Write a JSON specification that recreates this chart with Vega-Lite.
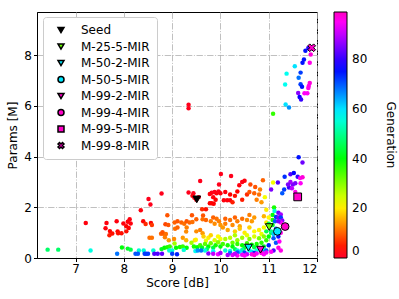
{
"$schema":"https://vega.github.io/schema/vega-lite/v6.json",
"width":280,"height":246,
"autosize":{"type":"none"},
"padding":{"left":37,"top":12,"right":82,"bottom":41},
"config":{"font":"DejaVu Sans","view":{"stroke":"black","strokeWidth":1},
"axis":{"labelFontSize":12,"titleFontSize":12,"titleFontWeight":"normal","labelColor":"black","titleColor":"black","tickColor":"black","domainColor":"black","tickSize":3.5,"labelPadding":2,"gridColor":"#b0b0b0","gridDash":[6.4,1.6,1,1.6],"gridWidth":0.8}},
"datasets":{
"pts":[
{"s":7.21,"p":1.38,"g":2},{"s":7.62,"p":1.17,"g":2},{"s":7.64,"p":1.38,"g":2},{"s":7.70,"p":0.90,"g":5},{"s":7.71,"p":1.06,"g":3},{"s":7.76,"p":0.97,"g":4},{"s":7.85,"p":1.45,"g":2},{"s":7.87,"p":1.05,"g":3},{"s":7.88,"p":0.98,"g":4},{"s":7.95,"p":0.98,"g":4},{"s":7.99,"p":1.36,"g":2},{"s":8.05,"p":1.25,"g":3},{"s":8.08,"p":1.43,"g":2},{"s":8.12,"p":1.53,"g":2},{"s":8.14,"p":1.36,"g":2},{"s":8.10,"p":1.18,"g":3},{"s":8.05,"p":1.05,"g":4},{"s":8.35,"p":1.88,"g":2},{"s":8.40,"p":1.45,"g":3},{"s":8.45,"p":1.34,"g":6},{"s":8.51,"p":2.33,"g":1},{"s":8.55,"p":2.11,"g":1},{"s":8.56,"p":1.38,"g":3},{"s":8.58,"p":1.30,"g":7},{"s":8.78,"p":2.54,"g":1},
{"s":8.53,"p":0.80,"g":11},{"s":8.58,"p":0.80,"g":11},{"s":8.77,"p":0.96,"g":10},{"s":8.82,"p":0.96,"g":10},{"s":8.80,"p":1.02,"g":9},{"s":8.85,"p":0.82,"g":12},{"s":8.87,"p":0.95,"g":11},{"s":8.90,"p":1.69,"g":9},{"s":8.86,"p":1.33,"g":8},{"s":8.92,"p":1.30,"g":9},{"s":8.93,"p":0.70,"g":14},
{"s":6.42,"p":0.33,"g":47},{"s":6.64,"p":0.33,"g":47},{"s":7.31,"p":0.30,"g":56},{"s":7.96,"p":0.41,"g":40},{"s":8.08,"p":0.37,"g":42},{"s":8.14,"p":0.33,"g":45},{"s":8.31,"p":0.30,"g":55},{"s":8.41,"p":0.30,"g":55},{"s":8.61,"p":0.30,"g":55},{"s":8.78,"p":0.35,"g":42},{"s":8.84,"p":0.40,"g":40},{"s":8.90,"p":0.42,"g":38},{"s":8.95,"p":0.45,"g":36},{"s":8.94,"p":0.30,"g":55},
{"s":7.86,"p":0.17,"g":68},{"s":8.24,"p":0.17,"g":70},{"s":8.29,"p":0.17,"g":70},{"s":8.43,"p":0.17,"g":72},{"s":8.46,"p":0.17,"g":72},{"s":8.50,"p":0.17,"g":72},{"s":8.63,"p":0.17,"g":82},{"s":8.70,"p":0.17,"g":82},{"s":8.79,"p":0.17,"g":83},
{"s":9.34,"p":2.58,"g":1},{"s":9.44,"p":2.55,"g":1},{"s":9.46,"p":2.38,"g":1},{"s":9.42,"p":2.45,"g":2},{"s":9.50,"p":2.30,"g":2},{"s":9.55,"p":2.40,"g":1},{"s":9.58,"p":3.04,"g":1},{"s":9.34,"p":6.04,"g":1},{"s":9.34,"p":5.90,"g":1},{"s":9.82,"p":2.57,"g":1},{"s":9.78,"p":2.52,"g":2},{"s":9.88,"p":2.60,"g":1},{"s":9.92,"p":2.55,"g":2},{"s":9.96,"p":2.62,"g":1},{"s":10.0,"p":2.55,"g":2},{"s":9.85,"p":2.40,"g":2},{"s":9.90,"p":2.30,"g":3},{"s":9.97,"p":2.90,"g":1},{"s":10.01,"p":3.31,"g":1},{"s":9.78,"p":2.16,"g":3},{"s":9.82,"p":2.16,"g":3},{"s":9.86,"p":2.14,"g":3},{"s":9.62,"p":1.92,"g":6},{"s":9.70,"p":1.92,"g":4},{"s":10.07,"p":2.28,"g":2},{"s":10.14,"p":2.28,"g":2},{"s":10.2,"p":2.28,"g":2},
{"s":9.05,"p":1.40,"g":10},{"s":9.06,"p":1.15,"g":11},{"s":9.04,"p":0.75,"g":13},{"s":9.11,"p":1.45,"g":9},{"s":9.11,"p":1.20,"g":10},{"s":9.19,"p":1.40,"g":10},{"s":9.25,"p":1.35,"g":11},{"s":9.30,"p":1.45,"g":9},{"s":9.36,"p":1.40,"g":10},{"s":9.42,"p":1.42,"g":11},{"s":9.30,"p":1.20,"g":12},{"s":9.29,"p":1.04,"g":13},{"s":9.22,"p":0.80,"g":14},{"s":9.29,"p":0.70,"g":16},{"s":9.41,"p":1.69,"g":9},{"s":9.64,"p":1.68,"g":9},{"s":9.50,"p":1.53,"g":10},{"s":9.63,"p":1.53,"g":11},{"s":9.70,"p":1.50,"g":10},{"s":9.80,"p":1.45,"g":12},{"s":9.50,"p":1.05,"g":13},{"s":9.58,"p":1.10,"g":12},{"s":9.63,"p":0.98,"g":14},{"s":9.85,"p":1.60,"g":10},{"s":9.92,"p":1.55,"g":11},{"s":9.97,"p":1.45,"g":12},{"s":9.88,"p":1.35,"g":13},{"s":10.0,"p":1.30,"g":14},
{"s":9.47,"p":0.70,"g":19},{"s":9.49,"p":0.72,"g":20},{"s":9.65,"p":0.85,"g":18},{"s":9.75,"p":0.80,"g":20},{"s":9.70,"p":0.68,"g":23},{"s":9.80,"p":0.90,"g":18},{"s":9.88,"p":0.70,"g":24},{"s":9.95,"p":0.85,"g":21},{"s":10.0,"p":0.75,"g":22},{"s":9.40,"p":0.60,"g":28},
{"s":9.05,"p":0.57,"g":28},{"s":9.08,"p":0.40,"g":40},{"s":9.16,"p":0.43,"g":38},{"s":9.22,"p":0.45,"g":36},{"s":9.30,"p":0.40,"g":40},{"s":9.45,"p":0.45,"g":38},{"s":9.52,"p":0.42,"g":40},{"s":9.58,"p":0.50,"g":35},{"s":9.62,"p":0.40,"g":42},{"s":9.68,"p":0.55,"g":33},{"s":9.75,"p":0.45,"g":40},{"s":9.80,"p":0.58,"g":32},{"s":9.85,"p":0.40,"g":44},{"s":9.90,"p":0.50,"g":38},{"s":9.95,"p":0.62,"g":30},{"s":10.0,"p":0.45,"g":40},{"s":9.72,"p":0.35,"g":46},
{"s":9.0,"p":0.30,"g":56},{"s":9.24,"p":0.32,"g":55},{"s":9.48,"p":0.28,"g":57},{"s":9.68,"p":0.30,"g":56},{"s":9.85,"p":0.27,"g":58},{"s":9.53,"p":0.30,"g":66},{"s":9.60,"p":0.30,"g":68},{"s":9.00,"p":0.17,"g":72},{"s":9.10,"p":0.15,"g":74},{"s":9.75,"p":0.18,"g":86},{"s":9.85,"p":0.17,"g":90},{"s":9.95,"p":0.15,"g":94},{"s":10.0,"p":0.20,"g":88},
{"s":10.22,"p":3.23,"g":1},{"s":10.45,"p":3.0,"g":1},{"s":10.39,"p":2.87,"g":2},{"s":10.5,"p":3.05,"g":2},{"s":10.1,"p":2.6,"g":2},{"s":10.2,"p":2.5,"g":3},{"s":10.3,"p":2.45,"g":4},{"s":10.35,"p":2.62,"g":3},{"s":10.45,"p":2.3,"g":5},{"s":10.55,"p":2.5,"g":6},{"s":10.25,"p":2.2,"g":5},
{"s":10.6,"p":2.6,"g":9},{"s":10.7,"p":2.55,"g":10},{"s":10.62,"p":2.9,"g":8},{"s":10.88,"p":3.07,"g":10},{"s":10.8,"p":2.5,"g":11},{"s":10.75,"p":2.3,"g":12},{"s":10.85,"p":2.2,"g":14},{"s":10.72,"p":2.8,"g":9},
{"s":10.1,"p":1.55,"g":10},{"s":10.2,"p":1.5,"g":11},{"s":10.3,"p":1.6,"g":10},{"s":10.35,"p":1.45,"g":12},{"s":10.45,"p":1.55,"g":11},{"s":10.55,"p":1.5,"g":13},{"s":10.65,"p":1.45,"g":14},{"s":10.1,"p":1.35,"g":12},{"s":10.25,"p":1.3,"g":13},{"s":10.4,"p":1.25,"g":15},{"s":10.6,"p":1.7,"g":12},{"s":10.7,"p":1.6,"g":14},{"s":10.9,"p":1.65,"g":16},{"s":10.05,"p":1.2,"g":14},{"s":10.15,"p":1.1,"g":15},
{"s":10.3,"p":1.05,"g":18},{"s":10.4,"p":1.15,"g":17},{"s":10.5,"p":1.0,"g":20},{"s":10.6,"p":1.2,"g":18},{"s":10.7,"p":1.05,"g":21},{"s":10.8,"p":1.1,"g":20},{"s":10.9,"p":1.2,"g":22},{"s":10.55,"p":0.9,"g":23},{"s":10.7,"p":0.85,"g":24},{"s":10.85,"p":0.95,"g":23},{"s":10.95,"p":1.4,"g":20},{"s":11.0,"p":1.6,"g":21},{"s":10.95,"p":1.9,"g":20},
{"s":10.1,"p":0.75,"g":27},{"s":10.2,"p":0.8,"g":26},{"s":10.3,"p":0.9,"g":27},{"s":10.35,"p":0.7,"g":29},{"s":10.45,"p":0.8,"g":28},{"s":10.6,"p":0.75,"g":30},{"s":10.8,"p":0.78,"g":31},{"s":10.9,"p":0.85,"g":30},{"s":10.25,"p":0.6,"g":32},
{"s":10.05,"p":0.55,"g":35},{"s":10.15,"p":0.5,"g":38},{"s":10.25,"p":0.45,"g":40},{"s":10.35,"p":0.55,"g":36},{"s":10.45,"p":0.5,"g":39},{"s":10.55,"p":0.58,"g":36},{"s":10.65,"p":0.52,"g":40},{"s":10.75,"p":0.55,"g":38},{"s":10.85,"p":0.6,"g":37},{"s":10.95,"p":0.7,"g":36},{"s":10.3,"p":0.35,"g":45},{"s":10.5,"p":0.4,"g":44},{"s":10.7,"p":0.42,"g":44},{"s":10.9,"p":0.45,"g":43},{"s":11.0,"p":0.85,"g":40},{"s":11.05,"p":1.0,"g":42},
{"s":10.1,"p":0.3,"g":55},{"s":10.2,"p":0.28,"g":56},{"s":10.35,"p":0.3,"g":54},{"s":10.45,"p":0.32,"g":52},{"s":10.6,"p":0.3,"g":55},{"s":10.75,"p":0.3,"g":56},{"s":10.9,"p":0.35,"g":55},{"s":10.4,"p":0.25,"g":60},{"s":10.65,"p":0.25,"g":60},
{"s":10.2,"p":0.2,"g":68},{"s":10.35,"p":0.22,"g":70},{"s":10.5,"p":0.22,"g":72},{"s":10.7,"p":0.2,"g":74},{"s":10.95,"p":0.3,"g":70},{"s":10.85,"p":0.25,"g":72},{"s":11.0,"p":0.5,"g":74},
{"s":10.15,"p":0.12,"g":88},{"s":10.25,"p":0.12,"g":92},{"s":10.35,"p":0.1,"g":95},{"s":10.45,"p":0.13,"g":93},{"s":10.55,"p":0.15,"g":90},{"s":10.65,"p":0.15,"g":96},{"s":10.75,"p":0.18,"g":94},{"s":10.85,"p":0.2,"g":97},{"s":10.9,"p":0.15,"g":95},{"s":10.3,"p":0.17,"g":90},{"s":10.5,"p":0.1,"g":95},{"s":10.7,"p":0.12,"g":97},{"s":10.95,"p":0.22,"g":93},
{"s":11.62,"p":3.97,"g":75},{"s":11.70,"p":3.77,"g":84},{"s":11.33,"p":3.2,"g":73},{"s":11.45,"p":3.3,"g":82},{"s":11.52,"p":3.35,"g":76},{"s":11.6,"p":3.2,"g":80},{"s":11.65,"p":3.15,"g":95},{"s":11.7,"p":3.18,"g":97},{"s":11.66,"p":2.95,"g":95},{"s":11.55,"p":2.95,"g":85},{"s":11.5,"p":2.9,"g":85},{"s":11.45,"p":3.0,"g":88},{"s":11.42,"p":2.78,"g":80},{"s":11.48,"p":2.75,"g":90},{"s":11.09,"p":2.98,"g":22},{"s":11.19,"p":2.98,"g":82},{"s":11.05,"p":2.7,"g":85},{"s":11.32,"p":2.7,"g":72},{"s":11.28,"p":2.55,"g":70},{"s":11.55,"p":2.6,"g":96},{"s":11.4,"p":2.9,"g":85},
{"s":11.11,"p":1.99,"g":38},{"s":11.12,"p":1.85,"g":55},{"s":11.2,"p":1.78,"g":84},{"s":11.25,"p":1.72,"g":88},{"s":11.08,"p":1.7,"g":40},{"s":11.15,"p":1.62,"g":72},{"s":11.2,"p":1.6,"g":85},{"s":11.25,"p":1.6,"g":72},{"s":11.28,"p":1.48,"g":86},{"s":11.25,"p":1.4,"g":95},{"s":11.08,"p":1.5,"g":38},{"s":11.13,"p":1.45,"g":70},{"s":11.2,"p":1.45,"g":85},{"s":11.15,"p":1.15,"g":70},{"s":11.25,"p":1.0,"g":96},{"s":11.2,"p":0.85,"g":75},{"s":11.1,"p":0.78,"g":70},{"s":11.15,"p":0.6,"g":70},{"s":11.22,"p":0.65,"g":95},{"s":11.2,"p":0.4,"g":97},{"s":11.25,"p":0.3,"g":96},{"s":11.1,"p":0.3,"g":82},{"s":11.05,"p":0.25,"g":95},{"s":11.08,"p":1.3,"g":42},{"s":11.0,"p":1.35,"g":45},{"s":11.05,"p":1.05,"g":50},{"s":10.95,"p":1.05,"g":45},{"s":11.1,"p":0.95,"g":62},{"s":10.92,"p":2.4,"g":22},{"s":10.82,"p":2.7,"g":12},
{"s":11.82,"p":8.28,"g":80},{"s":11.85,"p":8.25,"g":76},{"s":11.87,"p":8.3,"g":85},{"s":11.76,"p":8.17,"g":75},{"s":11.87,"p":8.02,"g":97},{"s":11.73,"p":7.83,"g":75},{"s":11.70,"p":7.70,"g":75},{"s":11.85,"p":7.70,"g":96},{"s":11.54,"p":7.56,"g":60},{"s":11.66,"p":7.31,"g":72},{"s":11.37,"p":7.27,"g":57},{"s":11.62,"p":7.11,"g":68},{"s":11.66,"p":6.85,"g":72},{"s":11.69,"p":6.75,"g":75},{"s":11.85,"p":6.9,"g":97},{"s":11.83,"p":6.78,"g":96},{"s":11.82,"p":6.7,"g":96},{"s":11.34,"p":6.84,"g":57},{"s":11.80,"p":6.5,"g":95},{"s":11.74,"p":6.5,"g":95},{"s":11.61,"p":6.51,"g":86},{"s":11.64,"p":6.35,"g":76},{"s":11.67,"p":6.25,"g":80},{"s":11.35,"p":6.05,"g":60},{"s":11.42,"p":5.93,"g":66},{"s":11.09,"p":5.69,"g":36}
],
"spec":[
{"s":9.51,"p":2.31,"m":"Seed"},{"s":11.01,"p":1.22,"m":"M-25-5-MIR"},{"s":10.58,"p":0.41,"m":"M-50-2-MIR"},{"s":11.18,"p":1.05,"m":"M-50-5-MIR"},{"s":10.83,"p":0.33,"m":"M-99-2-MIR"},{"s":11.34,"p":1.24,"m":"M-99-4-MIR"},{"s":11.6,"p":2.41,"m":"M-99-5-MIR"},{"s":11.89,"p":8.29,"m":"M-99-8-MIR"}
]},
"encoding":{
"x":{"field":"s","type":"quantitative","title":"Score [dB]","scale":{"domain":[6.2,12],"nice":false,"zero":false},"axis":{"values":[7,8,9,10,11,12],"titlePadding":3}},
"y":{"field":"p","type":"quantitative","title":"Params [M]","scale":{"domain":[0,9.7],"nice":false},"axis":{"values":[0,2,4,6,8],"titlePadding":4}}
},
"layer":[
{"data":{"name":"pts"},"mark":{"type":"point","filled":true,"size":20,"opacity":1},
"encoding":{"color":{"field":"g","type":"quantitative","title":"Generation",
"scale":{"type":"linear","domain":[0,2.97,21.3,39.6,58.0,76.2,94.4,99],"range":["#ff0029","#ff0000","#ffff00","#00ff00","#00ffff","#0000ff","#ff00ff","#ff00bf"],"interpolate":"rgb"},
"legend":{"orient":"none","legendX":297,"legendY":0,"direction":"vertical","gradientLength":246,"gradientThickness":13,"gradientStrokeColor":"black","gradientStrokeWidth":1,"values":[0,20,40,60,80],"labelFontSize":12,"labelColor":"black","labelOffset":5,"labelBaseline":"middle","padding":0,"titleOrient":"right","titleAngle":270,"titleFontSize":12,"titleFontWeight":"normal","titleColor":"black","titleAnchor":"middle","titlePadding":17}}}},
{"data":{"name":"spec"},"mark":{"type":"point","filled":true,"size":60,"opacity":1,"stroke":"black","strokeWidth":1},
"encoding":{
"shape":{"field":"m","type":"nominal","title":null,"scale":{"domain":["Seed","M-25-5-MIR","M-50-2-MIR","M-50-5-MIR","M-99-2-MIR","M-99-4-MIR","M-99-5-MIR","M-99-8-MIR"],"range":["triangle-down","triangle-down","triangle-down","circle","triangle-down","circle","square","M-1,-0.5L-0.5,-1L0,-0.5L0.5,-1L1,-0.5L0.5,0L1,0.5L0.5,1L0,0.5L-0.5,1L-1,0.5L-0.5,0Z"]},
"legend":{"orient":"none","legendX":6,"legendY":5,"fillColor":"white","strokeColor":"#cccccc","cornerRadius":3,"padding":7,"labelFontSize":12,"labelColor":"black","symbolSize":36,"rowPadding":4.5,"labelOffset":14,"symbolOffset":5,"encode":{"symbols":{"update":{"stroke":{"value":"black"},"strokeWidth":{"value":0.8}}}}}},
"fill":{"field":"m","type":"nominal","title":null,"scale":{"domain":["Seed","M-25-5-MIR","M-50-2-MIR","M-50-5-MIR","M-99-2-MIR","M-99-4-MIR","M-99-5-MIR","M-99-8-MIR"],"range":["#000000","#6aff00","#00e8ff","#00e8ff","#ff00c8","#ff00c8","#ff00c8","#ff00c8"]},
"legend":{"orient":"none","legendX":6,"legendY":5,"fillColor":"white","strokeColor":"#cccccc","cornerRadius":3,"padding":7,"labelFontSize":12,"labelColor":"black","symbolSize":36,"rowPadding":4.5,"labelOffset":14,"symbolOffset":5,"encode":{"symbols":{"update":{"stroke":{"value":"black"},"strokeWidth":{"value":0.8}}}}}}}}
],
"resolve":{"scale":{"color":"independent"}}
}
